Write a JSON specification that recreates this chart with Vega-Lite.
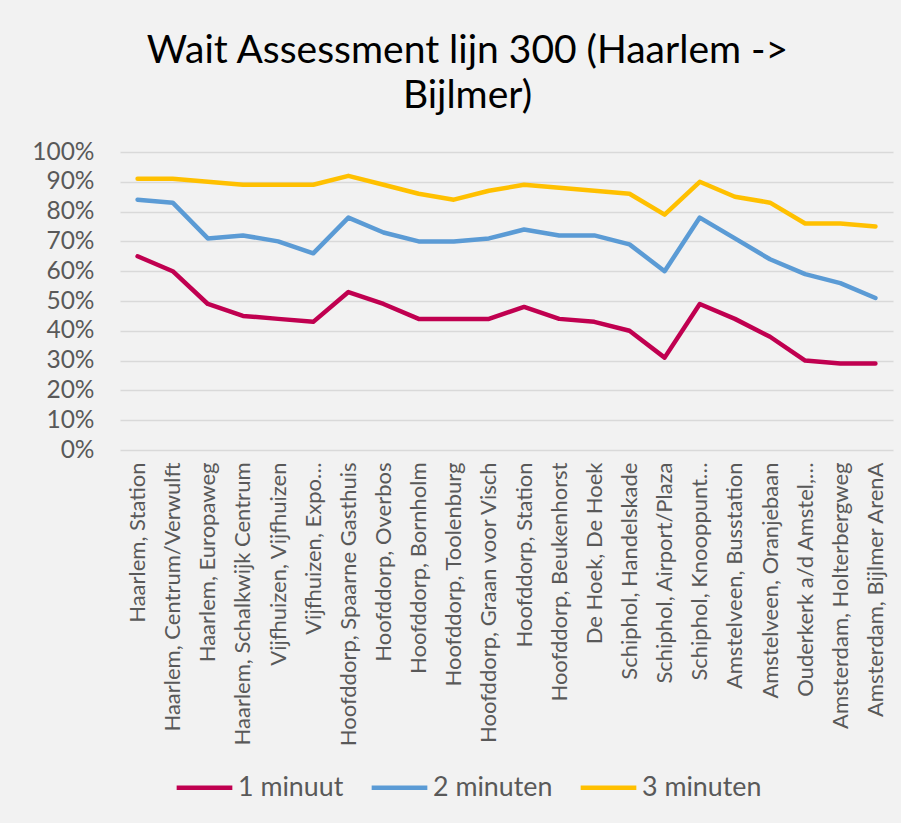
{
  "$schema": "https://vega.github.io/schema/vega-lite/v6.json",
  "autosize": "none",
  "width": 773,
  "height": 298,
  "padding": {"left": 120, "top": 152, "right": 8, "bottom": 373},
  "background": "#f2f2f2",
  "title": {
    "text": ["Wait Assessment lijn 300 (Haarlem ->", "Bijlmer)"],
    "anchor": "middle",
    "frame": "group",
    "dx": -39,
    "dy": 8,
    "font": "Lato",
    "fontSize": 39,
    "fontWeight": "normal",
    "color": "#000000",
    "lineHeight": 45,
    "baseline": "alphabetic",
    "offset": 0
  },
  "config": {
    "view": {"stroke": null},
    "font": "Lato"
  },
  "datasets": {
    "wait": [
      {"halte": "Haarlem, Station", "reeks": "1 minuut", "waarde": 0.65},
      {"halte": "Haarlem, Centrum/Verwulft", "reeks": "1 minuut", "waarde": 0.60},
      {"halte": "Haarlem, Europaweg", "reeks": "1 minuut", "waarde": 0.49},
      {"halte": "Haarlem, Schalkwijk Centrum", "reeks": "1 minuut", "waarde": 0.45},
      {"halte": "Vijfhuizen, Vijfhuizen", "reeks": "1 minuut", "waarde": 0.44},
      {"halte": "Vijfhuizen, Expo…", "reeks": "1 minuut", "waarde": 0.43},
      {"halte": "Hoofddorp, Spaarne Gasthuis", "reeks": "1 minuut", "waarde": 0.53},
      {"halte": "Hoofddorp, Overbos", "reeks": "1 minuut", "waarde": 0.49},
      {"halte": "Hoofddorp, Bornholm", "reeks": "1 minuut", "waarde": 0.44},
      {"halte": "Hoofddorp, Toolenburg", "reeks": "1 minuut", "waarde": 0.44},
      {"halte": "Hoofddorp, Graan voor Visch", "reeks": "1 minuut", "waarde": 0.44},
      {"halte": "Hoofddorp, Station", "reeks": "1 minuut", "waarde": 0.48},
      {"halte": "Hoofddorp, Beukenhorst", "reeks": "1 minuut", "waarde": 0.44},
      {"halte": "De Hoek, De Hoek", "reeks": "1 minuut", "waarde": 0.43},
      {"halte": "Schiphol, Handelskade", "reeks": "1 minuut", "waarde": 0.40},
      {"halte": "Schiphol, Airport/Plaza", "reeks": "1 minuut", "waarde": 0.31},
      {"halte": "Schiphol, Knooppunt…", "reeks": "1 minuut", "waarde": 0.49},
      {"halte": "Amstelveen, Busstation", "reeks": "1 minuut", "waarde": 0.44},
      {"halte": "Amstelveen, Oranjebaan", "reeks": "1 minuut", "waarde": 0.38},
      {"halte": "Ouderkerk a/d Amstel,…", "reeks": "1 minuut", "waarde": 0.30},
      {"halte": "Amsterdam, Holterbergweg", "reeks": "1 minuut", "waarde": 0.29},
      {"halte": "Amsterdam, Bijlmer ArenA", "reeks": "1 minuut", "waarde": 0.29},
      {"halte": "Haarlem, Station", "reeks": "2 minuten", "waarde": 0.84},
      {"halte": "Haarlem, Centrum/Verwulft", "reeks": "2 minuten", "waarde": 0.83},
      {"halte": "Haarlem, Europaweg", "reeks": "2 minuten", "waarde": 0.71},
      {"halte": "Haarlem, Schalkwijk Centrum", "reeks": "2 minuten", "waarde": 0.72},
      {"halte": "Vijfhuizen, Vijfhuizen", "reeks": "2 minuten", "waarde": 0.70},
      {"halte": "Vijfhuizen, Expo…", "reeks": "2 minuten", "waarde": 0.66},
      {"halte": "Hoofddorp, Spaarne Gasthuis", "reeks": "2 minuten", "waarde": 0.78},
      {"halte": "Hoofddorp, Overbos", "reeks": "2 minuten", "waarde": 0.73},
      {"halte": "Hoofddorp, Bornholm", "reeks": "2 minuten", "waarde": 0.70},
      {"halte": "Hoofddorp, Toolenburg", "reeks": "2 minuten", "waarde": 0.70},
      {"halte": "Hoofddorp, Graan voor Visch", "reeks": "2 minuten", "waarde": 0.71},
      {"halte": "Hoofddorp, Station", "reeks": "2 minuten", "waarde": 0.74},
      {"halte": "Hoofddorp, Beukenhorst", "reeks": "2 minuten", "waarde": 0.72},
      {"halte": "De Hoek, De Hoek", "reeks": "2 minuten", "waarde": 0.72},
      {"halte": "Schiphol, Handelskade", "reeks": "2 minuten", "waarde": 0.69},
      {"halte": "Schiphol, Airport/Plaza", "reeks": "2 minuten", "waarde": 0.60},
      {"halte": "Schiphol, Knooppunt…", "reeks": "2 minuten", "waarde": 0.78},
      {"halte": "Amstelveen, Busstation", "reeks": "2 minuten", "waarde": 0.71},
      {"halte": "Amstelveen, Oranjebaan", "reeks": "2 minuten", "waarde": 0.64},
      {"halte": "Ouderkerk a/d Amstel,…", "reeks": "2 minuten", "waarde": 0.59},
      {"halte": "Amsterdam, Holterbergweg", "reeks": "2 minuten", "waarde": 0.56},
      {"halte": "Amsterdam, Bijlmer ArenA", "reeks": "2 minuten", "waarde": 0.51},
      {"halte": "Haarlem, Station", "reeks": "3 minuten", "waarde": 0.91},
      {"halte": "Haarlem, Centrum/Verwulft", "reeks": "3 minuten", "waarde": 0.91},
      {"halte": "Haarlem, Europaweg", "reeks": "3 minuten", "waarde": 0.90},
      {"halte": "Haarlem, Schalkwijk Centrum", "reeks": "3 minuten", "waarde": 0.89},
      {"halte": "Vijfhuizen, Vijfhuizen", "reeks": "3 minuten", "waarde": 0.89},
      {"halte": "Vijfhuizen, Expo…", "reeks": "3 minuten", "waarde": 0.89},
      {"halte": "Hoofddorp, Spaarne Gasthuis", "reeks": "3 minuten", "waarde": 0.92},
      {"halte": "Hoofddorp, Overbos", "reeks": "3 minuten", "waarde": 0.89},
      {"halte": "Hoofddorp, Bornholm", "reeks": "3 minuten", "waarde": 0.86},
      {"halte": "Hoofddorp, Toolenburg", "reeks": "3 minuten", "waarde": 0.84},
      {"halte": "Hoofddorp, Graan voor Visch", "reeks": "3 minuten", "waarde": 0.87},
      {"halte": "Hoofddorp, Station", "reeks": "3 minuten", "waarde": 0.89},
      {"halte": "Hoofddorp, Beukenhorst", "reeks": "3 minuten", "waarde": 0.88},
      {"halte": "De Hoek, De Hoek", "reeks": "3 minuten", "waarde": 0.87},
      {"halte": "Schiphol, Handelskade", "reeks": "3 minuten", "waarde": 0.86},
      {"halte": "Schiphol, Airport/Plaza", "reeks": "3 minuten", "waarde": 0.79},
      {"halte": "Schiphol, Knooppunt…", "reeks": "3 minuten", "waarde": 0.90},
      {"halte": "Amstelveen, Busstation", "reeks": "3 minuten", "waarde": 0.85},
      {"halte": "Amstelveen, Oranjebaan", "reeks": "3 minuten", "waarde": 0.83},
      {"halte": "Ouderkerk a/d Amstel,…", "reeks": "3 minuten", "waarde": 0.76},
      {"halte": "Amsterdam, Holterbergweg", "reeks": "3 minuten", "waarde": 0.76},
      {"halte": "Amsterdam, Bijlmer ArenA", "reeks": "3 minuten", "waarde": 0.75}
    ]
  },
  "data": {"name": "wait"},
  "mark": {"type": "line", "strokeWidth": 4.5, "strokeCap": "round", "strokeJoin": "round"},
  "encoding": {
    "x": {
      "field": "halte",
      "type": "nominal",
      "sort": null,
      "scale": {"type": "point", "padding": 0.5},
      "axis": {
        "title": null,
        "labelAngle": -90,
        "labelAlign": "right",
        "labelBaseline": "middle",
        "labelFont": "Lato",
        "labelFontSize": 22,
        "labelColor": "#595959",
        "labelPadding": 12,
        "labelLimit": 400,
        "labelOverlap": false,
        "domain": false,
        "ticks": false,
        "grid": false
      }
    },
    "y": {
      "field": "waarde",
      "type": "quantitative",
      "scale": {"domain": [0, 1], "nice": false},
      "axis": {
        "title": null,
        "format": ".0%",
        "values": [0, 0.1, 0.2, 0.3, 0.4, 0.5, 0.6, 0.7, 0.8, 0.9, 1],
        "labelFont": "Lato",
        "labelFontSize": 24.5,
        "labelColor": "#595959",
        "labelPadding": 26,
        "domain": false,
        "ticks": false,
        "grid": true,
        "gridColor": "#d9d9d9",
        "gridWidth": 1.5
      }
    },
    "color": {
      "field": "reeks",
      "type": "nominal",
      "scale": {
        "domain": ["1 minuut", "2 minuten", "3 minuten"],
        "range": ["#c00050", "#5b9bd5", "#ffc000"]
      },
      "legend": {
        "title": null,
        "orient": "none",
        "direction": "horizontal",
        "legendX": 54,
        "legendY": 605,
        "symbolType": "stroke",
        "symbolSize": 3100,
        "symbolStrokeWidth": 4.5,
        "labelFont": "Lato",
        "labelFontSize": 26.8,
        "labelColor": "#595959",
        "labelOffset": 3,
        "columnPadding": 18
      }
    }
  }
}
